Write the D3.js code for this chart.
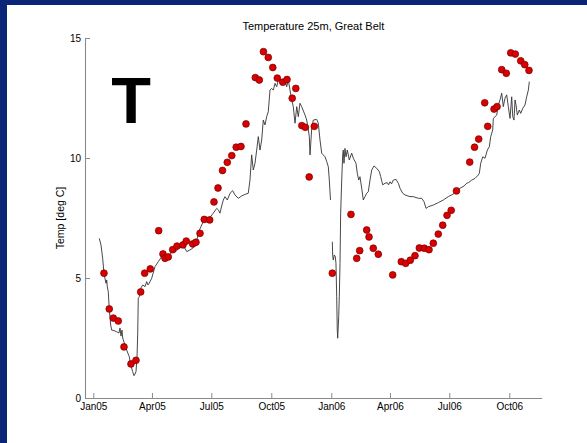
<!DOCTYPE html>
<html>
<head>
<meta charset="utf-8">
<script src="https://cdn.jsdelivr.net/npm/d3@7"></script>
<style>
  html, body { margin: 0; padding: 0; background: #0a2478; }
  svg { display: block; }
  text { font-family: "Liberation Sans", Arial, Helvetica, sans-serif; }
</style>
</head>
<body>
<svg id="chart" width="587" height="443"></svg>
<script>
// Temperature at 25 m depth, Great Belt.
// Time is given as days since 1 Jan 2005.

// Continuous sensor record (null = missing data)
const lineDay = [
  9.2, 11.8, 14.4, 16.4, 18.4, 19.5, 20.6, 21.5, 23.0, 24.5, 26.7, 28.2, 31.7, 35.9, 39.4, 41.0,
  42.5, 44.0, 45.1, 46.0, 48.6, 51.2, 55.2, 57.4, 60.4, 62.4, 64.0, 65.5, 67.0, 68.1, 69.0, 70.6,
  72.7, 75.8, 79.3, 81.9, 83.9, 85.9, 89.6, 94.6, 99.7, 104.9, 107.4, 110.0, 113.5, 117.6, 122.7,
  126.8, 130.4, 134.5, 138.0, 140.6, 143.3, 148.3, 152.5, 156.0, 159.5, 162.1, 168.7, 172.9, 176.4,
  180.5, 184.0, 189.3, 192.0, 194.3, 196.9, 199.4, 202.0, 205.5, 209.7, 213.8, 217.3, 222.4, 227.6,
  234.2, 237.7, 240.3, 242.9, 245.4, 248.0, 250.6, 253.1, 255.7, 258.3, 260.7, 263.3, 265.9, 268.4,
  271.0, 273.6, 276.1, 278.7, 281.3, 283.7, 287.4, 291.4, 294.0, 296.6, 299.1, 301.7, 304.3, 306.7,
  309.4, 312.0, 314.4, 317.0, 319.6, 324.7, 327.3, 329.8, 331.3, 332.4, 335.0, 337.4, 342.6, 345.1,
  347.7, 350.3, 355.4, 358.0, 360.4, 362.0, 363.8, 365.2,
  366.6, 367.2, 368.1, 369.6, 371.2, 372.2, 373.3, 374.2, 374.8, 376.4, 377.3, 378.4, 379.4, 381.0,
  382.5, 383.4, 384.5, 386.0, 387.6, 389.6, 392.6, 396.3, 398.8, 402.9, 404.9, 407.1, 409.0, 411.7,
  414.1, 416.7, 419.3, 421.8, 424.4, 427.0, 430.5, 434.7, 438.7, 440.8, 443.9, 447.4, 450.9, 452.8,
  455.1, 457.4, 460.1, 464.3, 467.8, 470.4, 474.5, 478.1, 485.7, 490.8, 498.5, 503.7, 507.2, 510.3,
  513.8, 521.5, 529.1, 536.8, 544.5, 552.1, 557.4, 562.4, 568.6, 572.7, 575.2, 580.4, 585.4, 590.5,
  592.0, 594.2, 597.2, 600.8, 604.3, 607.4, 609.5, 612.6, 613.5, 616.1, 618.7, 621.2, 623.8, 626.4,
  628.8, 631.4, 634.0, 636.5, 639.1, 641.7, 643.3, 645.2, 646.8, 648.3, 650.3, 653.4, 655.5, 658.6,
  662.1, 664.7, 667.2, 668.7
];
const lineTemp = [
  6.65, 6.38, 5.82, 5.20, 4.92, 4.78, 4.92, 4.63, 4.43, 3.71, 3.04, 2.83, 2.81, 2.76, 2.71, 2.92,
  2.58, 2.83, 2.50, 2.42, 2.21, 2.00, 1.72, 1.38, 1.10, 0.93, 1.00, 1.10, 1.65, 2.63, 4.15, 4.22,
  4.57, 4.71, 4.64, 4.85, 4.71, 4.79, 4.99, 5.47, 5.68, 5.89, 6.03, 5.92, 5.89, 5.99, 6.13,
  6.10, 6.24, 6.27, 6.30, 6.24, 6.10, 6.17, 6.24, 6.45, 6.65, 6.96, 7.35, 7.44, 7.49,
  7.58, 7.70, 7.90, 7.83, 7.70, 8.00, 8.25, 8.39, 8.25, 8.53, 8.64, 8.46, 8.32, 8.42,
  8.50, 8.53, 9.08, 10.13, 9.50, 9.78, 10.33, 10.89, 10.33, 10.75, 11.58, 11.38, 11.72, 11.93,
  12.83, 12.90, 12.83, 13.11, 12.97, 13.25, 13.18, 13.04, 13.25, 12.97, 13.25, 12.83, 12.42, 12.14,
  11.45, 12.14, 11.72, 12.28, 12.14, 11.79, 11.58, 11.17, 10.89, 10.13, 11.24, 11.58, 11.61, 11.45,
  10.75, 10.20, 10.05, 9.85, 9.64, 9.08, 8.25, null,
  6.51, 5.89, 5.75, 5.96, 5.89, 5.61, 4.22, 2.83, 2.49, 3.39, 4.22, 5.61, 7.70, 9.08,
  10.13, 10.33, 9.78, 10.40, 10.05, 10.33, 9.92, 10.20, 9.99, 9.78, 9.36, 9.08, 9.22, 8.74,
  8.25, 8.39, 8.53, 8.60, 9.08, 9.50, 9.67, 9.57, 9.43, 9.22, 8.88, 8.95, 8.97, 8.88,
  9.01, 8.92, 9.08, 9.11, 8.95, 8.74, 8.53, 8.46, 8.39, 8.39, 8.32, 8.32, 8.18, 7.90,
  7.97, 8.04, 8.14, 8.25, 8.39, 8.50, 8.63, 8.74, 8.83, 8.95, 8.97, 9.08, 9.15, 9.29,
  9.36, 9.78, 10.05, 9.99, 10.33, 10.47, 10.89, 11.17, 11.65, 11.72, 11.79, 12.21, 12.42, 12.70,
  12.14, 12.49, 12.63, 12.14, 11.65, 12.55, 11.72, 11.58, 12.42, 12.21, 11.79, 12.00, 11.86, 12.07,
  12.21, 12.55, 12.83, 13.18
];

// Discrete samples
const sampleDay = [
  16.4, 24.5, 30.7, 38.3, 47.1, 57.8, 65.5, 72.7, 78.8, 87.4, 100.3, 106.9, 110.0, 115.0, 121.8,
  128.4, 137.6, 142.6, 152.5, 157.5, 163.7, 170.2, 178.5, 185.1, 191.3, 198.2, 205.5, 212.4, 219.2,
  226.5, 234.2, 248.5, 254.6, 261.0, 268.4, 275.3, 282.2, 290.6, 297.1, 305.1, 310.6, 319.8, 325.2,
  331.1, 339.0, 366.6, 395.2, 404.0, 408.6, 419.3, 422.9, 429.4, 437.1, 459.2, 472.4, 479.1, 486.2,
  493.4, 500.0, 507.7, 514.9, 521.5, 529.1, 535.9, 542.5, 548.9, 557.0, 577.3, 584.7, 591.1, 600.3,
  604.9, 614.6, 619.2, 626.4, 633.4, 640.2, 647.2, 655.5, 661.7, 668.2
];
const sampleTemp = [
  5.20, 3.71, 3.33, 3.21, 2.13, 1.42, 1.57, 4.42, 5.20, 5.38, 6.97, 6.00, 5.82, 5.88, 6.18,
  6.33, 6.38, 6.54, 6.42, 6.49, 6.86, 7.44, 7.42, 8.17, 8.75, 9.48, 9.82, 10.10, 10.45,
  10.48, 11.42, 13.35, 13.25, 14.43, 14.19, 13.77, 13.33, 13.16, 13.27, 12.49, 12.90, 11.35, 11.28,
  9.21, 11.32, 5.20, 7.65, 5.82, 6.14, 7.00, 6.71, 6.24, 5.99, 5.13, 5.68, 5.61, 5.74,
  5.93, 6.25, 6.24, 6.18, 6.45, 6.83, 7.20, 7.61, 7.82, 8.63, 9.83, 10.45, 10.79, 12.30,
  11.32, 12.04, 12.14, 13.68, 13.53, 14.38, 14.33, 14.05, 13.89, 13.65
];

// Axis settings
const xTickDates = ["2005-01-01", "2005-04-01", "2005-07-01", "2005-10-01",
                    "2006-01-01", "2006-04-01", "2006-07-01", "2006-10-01"];
const xLimitDays = [-12.7, 687.7];
const yTicks = [0, 5, 10, 15];
const yLimits = [0, 15];

const title = "Temperature 25m, Great Belt";
const yLabel = "Temp [deg C]";
const panelLetter = "T";

const DAY_MS = 864e5;
const origin = Date.UTC(2005, 0, 1);
const toDate = d => new Date(origin + d * DAY_MS);

const svg = d3.select("#chart");
const W = 587, H = 443;

// slide background and white figure panel
svg.append("rect").attr("x", 0).attr("y", 0).attr("width", W).attr("height", H).attr("fill", "#0a2478");
svg.append("rect").attr("x", 7).attr("y", 5).attr("width", W - 7).attr("height", H - 5).attr("fill", "#ffffff");

const plot = { left: 85, right: 541.7, top: 38, bottom: 398 };

const x = d3.scaleUtc()
  .domain(xLimitDays.map(toDate))
  .range([plot.left, plot.right]);
const y = d3.scaleLinear()
  .domain(yLimits)
  .range([plot.bottom, plot.top]);

const axisColor = "#8a8a8a";

// x axis
const xAxis = d3.axisBottom(x)
  .tickValues(xTickDates.map(s => new Date(s + "T00:00:00Z")))
  .tickFormat(d3.utcFormat("%b%y"))
  .tickSizeInner(-5)
  .tickSizeOuter(0)
  .tickPadding(5);
const gx = svg.append("g").attr("transform", `translate(0,${plot.bottom})`).call(xAxis);

// y axis
const yAxis = d3.axisLeft(y)
  .tickValues(yTicks)
  .tickSizeInner(-5)
  .tickSizeOuter(0)
  .tickPadding(4);
const gy = svg.append("g").attr("transform", `translate(${plot.left},0)`).call(yAxis);

[gx, gy].forEach(g => {
  g.select(".domain").attr("stroke", axisColor).attr("stroke-width", 1.1);
  g.selectAll(".tick line").attr("stroke", axisColor).attr("stroke-width", 1);
  g.selectAll(".tick text").attr("fill", "#000").attr("font-size", 10)
    .attr("font-family", "'Liberation Sans', Arial, sans-serif");
});

// continuous record
const line = d3.line()
  .defined(d => d.t !== null)
  .x(d => x(toDate(d.day)))
  .y(d => y(d.t));
const lineData = lineDay.map((d, i) => ({ day: d, t: lineTemp[i] }));
svg.append("path")
  .datum(lineData)
  .attr("fill", "none")
  .attr("stroke", "#333")
  .attr("stroke-width", 0.9)
  .attr("stroke-linejoin", "round")
  .attr("d", line);

// samples
const samples = sampleDay.map((d, i) => ({ day: d, t: sampleTemp[i] }));
svg.append("g").selectAll("circle")
  .data(samples)
  .join("circle")
  .attr("cx", d => x(toDate(d.day)))
  .attr("cy", d => y(d.t))
  .attr("r", 3.4)
  .attr("fill", "#d80000")
  .attr("stroke", "#7a0000")
  .attr("stroke-width", 0.7);

// title
svg.append("text")
  .attr("x", (plot.left + plot.right) / 2)
  .attr("y", 30)
  .attr("text-anchor", "middle")
  .attr("font-size", 11)
  .attr("fill", "#000")
  .text(title);

// y label
svg.append("text")
  .attr("transform", `translate(64,${(plot.top + plot.bottom) / 2}) rotate(-90)`)
  .attr("text-anchor", "middle")
  .attr("font-size", 10.5)
  .attr("fill", "#000")
  .text(yLabel);

// panel letter
svg.append("text")
  .attr("x", 131)
  .attr("y", 123)
  .attr("text-anchor", "middle")
  .attr("font-size", 65)
  .attr("font-weight", "bold")
  .attr("fill", "#000")
  .text(panelLetter);
</script>
</body>
</html>
